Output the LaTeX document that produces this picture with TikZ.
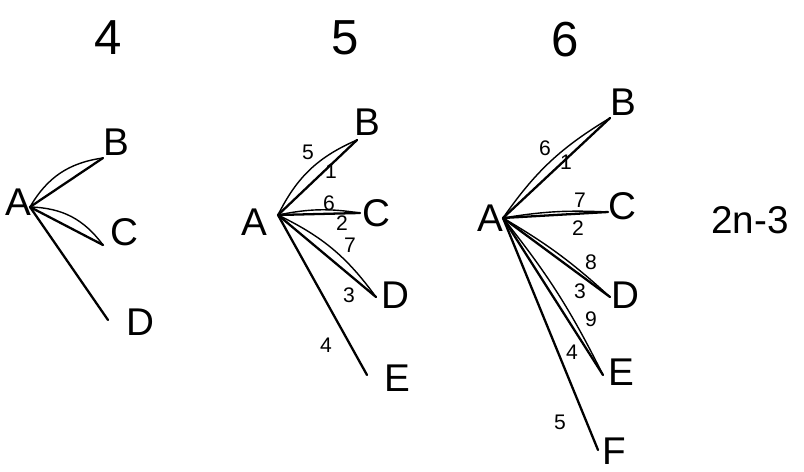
\documentclass[tikz,border=0pt]{standalone}
\usepackage{fontspec}
\setmainfont{Liberation Sans}
\usetikzlibrary{positioning,calc}

\begin{document}
\begin{tikzpicture}[x=0.02cm,y=-0.02cm,
    head/.style={font=\fontsize{28}{30}\selectfont},
    vlabel/.style={font=\fontsize{22}{24}\selectfont},
    elabel/.style={font=\fontsize{12}{13}\selectfont},
    edge/.style={line width=1.3pt,line cap=round},
    loopedge/.style={line width=0.8pt,line cap=round}]
  \useasboundingbox (0,0) rectangle (804,472);

  % Left panel: four points
  \node[head] (h4) at (108,38) {4};
  \coordinate (a4) at (30,207);
  \coordinate (b4) at (103,158);
  \coordinate (c4) at (103,245);
  \coordinate (d4) at (108,320);
  \node[vlabel] (la4) at (18,202) {A};
  \node[vlabel] (lb4) at (116,142) {B};
  \node[vlabel] (lc4) at (124,232) {C};
  \node[vlabel] (ld4) at (140,322) {D};
  \draw[edge] (a4) -- (b4);
  \draw[loopedge] (a4) to[bend left=26] (b4);
  \draw[edge] (a4) -- (c4);
  \draw[loopedge] (a4) to[bend left=26] (c4);
  \draw[edge] (a4) -- (d4);

  % Middle panel: five points
  \node[head] (h5) at (345,38) {5};
  \coordinate (a5) at (278,215);
  \coordinate (b5) at (357,140);
  \coordinate (c5) at (360,213);
  \coordinate (d5) at (376,297);
  \coordinate (e5) at (367,375);
  \node[vlabel] (la5) at (254,222) {A};
  \node[vlabel] (lb5) at (367,122) {B};
  \node[vlabel] (lc5) at (376,213) {C};
  \node[vlabel] (ld5) at (395,295) {D};
  \node[vlabel] (le5) at (397,378) {E};
  \draw[edge] (a5) -- (b5);
  \draw[loopedge] (a5) to[bend left=20] (b5);
  \draw[edge] (a5) -- (c5);
  \draw[loopedge] (a5) to[bend left=10] (c5);
  \draw[edge] (a5) -- (d5);
  \draw[loopedge] (a5) to[bend left=14] (d5);
  \draw[edge] (a5) -- (e5);
  \node[elabel] (n5a) at (308,152) {5};
  \node[elabel] (n5b) at (331,171) {1};
  \node[elabel] (n5c) at (329,203) {6};
  \node[elabel] (n5d) at (342,223) {2};
  \node[elabel] (n5e) at (350,245) {7};
  \node[elabel] (n5f) at (349,295) {3};
  \node[elabel] (n5g) at (326,345) {4};

  % Right panel: six points
  \node[head] (h6) at (565,40) {6};
  \coordinate (a6) at (503,218);
  \coordinate (b6) at (610,118);
  \coordinate (c6) at (608,212);
  \coordinate (d6) at (610,297);
  \coordinate (e6) at (603,375);
  \coordinate (f6) at (598,450);
  \node[vlabel] (la6) at (490,218) {A};
  \node[vlabel] (lb6) at (623,102) {B};
  \node[vlabel] (lc6) at (622,206) {C};
  \node[vlabel] (ld6) at (625,295) {D};
  \node[vlabel] (le6) at (621,372) {E};
  \node[vlabel] (lf6) at (614,451) {F};
  \draw[edge] (a6) -- (b6);
  \draw[loopedge] (a6) to[bend left=12] (b6);
  \draw[edge] (a6) -- (c6);
  \draw[loopedge] (a6) to[bend left=6] (c6);
  \draw[edge] (a6) -- (d6);
  \draw[loopedge] (a6) to[bend left=6] (d6);
  \draw[edge] (a6) -- (e6);
  \draw[loopedge] (a6) to[bend left=6] (e6);
  \draw[edge] (a6) -- (f6);
  \node[elabel] (n6a) at (545,148) {6};
  \node[elabel] (n6b) at (566,162) {1};
  \node[elabel] (n6c) at (580,200) {7};
  \node[elabel] (n6d) at (578,228) {2};
  \node[elabel] (n6e) at (591,262) {8};
  \node[elabel] (n6f) at (580,291) {3};
  \node[elabel] (n6g) at (591,319) {9};
  \node[elabel] (n6h) at (572,352) {4};
  \node[elabel] (n6i) at (560,422) {5};

  % Formula
  \node[vlabel] (rule) at (750,220) {2n-3};
\end{tikzpicture}
\end{document}
